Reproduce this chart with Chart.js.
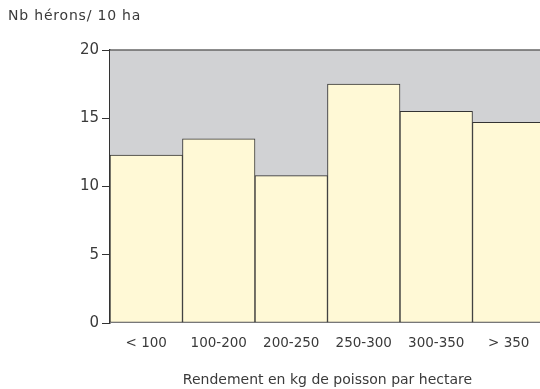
<!DOCTYPE html>
<html>
<head>
<meta charset="utf-8">
<script src="https://cdn.jsdelivr.net/npm/chart.js@4"></script>
<style>
  html, body { margin: 0; padding: 0; background: #fff; overflow: hidden; }
  #wrap { width: 540px; height: 389px; overflow: hidden; position: relative; }
  canvas { display: block; }
</style>
</head>
<body>
<div id="wrap"><canvas id="c" width="549" height="389"></canvas></div>
<script>
const categories = ['< 100', '100-200', '200-250', '250-300', '300-350', '> 350'];
const herons = [12.3, 13.5, 10.8, 17.5, 15.5, 14.7];
const yTicks = [0, 5, 10, 15, 20];

const FONT = '"DejaVu Sans", sans-serif';
const INK = '#333';
const TEXT = '#3a3a3a';

// grey plot background and the thin frame line along the top
const plotBackground = {
  id: 'plotBackground',
  beforeDatasetsDraw(chart) {
    const { ctx, chartArea: a } = chart;
    ctx.save();
    ctx.fillStyle = '#d1d2d4';
    ctx.fillRect(a.left, a.top, a.right - a.left, a.bottom - a.top);
    ctx.strokeStyle = '#666';
    ctx.lineWidth = 1.5;
    ctx.beginPath();
    ctx.moveTo(a.left, a.top);
    ctx.lineTo(a.right, a.top);
    ctx.stroke();
    ctx.restore();
  }
};

// unit label printed above the y axis
const unitLabel = {
  id: 'unitLabel',
  afterDraw(chart) {
    const ctx = chart.ctx;
    ctx.save();
    ctx.fillStyle = TEXT;
    ctx.font = '14px ' + FONT;
    ctx.letterSpacing = '0.8px';
    ctx.textBaseline = 'middle';
    ctx.fillText('Nb hérons/ 10 ha', 8, 16);
    ctx.restore();
  }
};

new Chart(document.getElementById('c'), {
  type: 'bar',
  data: {
    labels: categories,
    datasets: [{
      data: herons,
      backgroundColor: '#fff9d6',
      borderColor: INK,
      borderWidth: 1,
      borderSkipped: false,
      categoryPercentage: 1,
      barPercentage: 1
    }]
  },
  plugins: [plotBackground, unitLabel],
  options: {
    responsive: false,
    devicePixelRatio: 1,
    animation: false,
    layout: { padding: { top: 50, right: 4, left: 0, bottom: 0 } },
    plugins: { legend: { display: false }, tooltip: { enabled: false } },
    scales: {
      x: {
        grid: { display: false },
        border: { display: false },
        ticks: { color: TEXT, font: { family: FONT, size: 13.5 }, padding: 4, maxRotation: 0 },
        title: {
          display: true,
          text: 'Rendement en kg de poisson par hectare',
          color: TEXT,
          font: { family: FONT, size: 14 },
          padding: { top: 22, bottom: 0 }
        },
        afterFit(scale) { scale.height = 66; }
      },
      y: {
        min: 0,
        max: 20,
        afterBuildTicks(scale) { scale.ticks = yTicks.map(v => ({ value: v })); },
        grid: { drawOnChartArea: false, drawTicks: true, tickLength: 8, color: INK },
        border: { color: INK, width: 1.5 },
        ticks: { color: TEXT, font: { family: FONT, size: 15 }, padding: 3 },
        afterFit(scale) { scale.width = 110; }
      }
    }
  }
});
</script>
</body>
</html>
